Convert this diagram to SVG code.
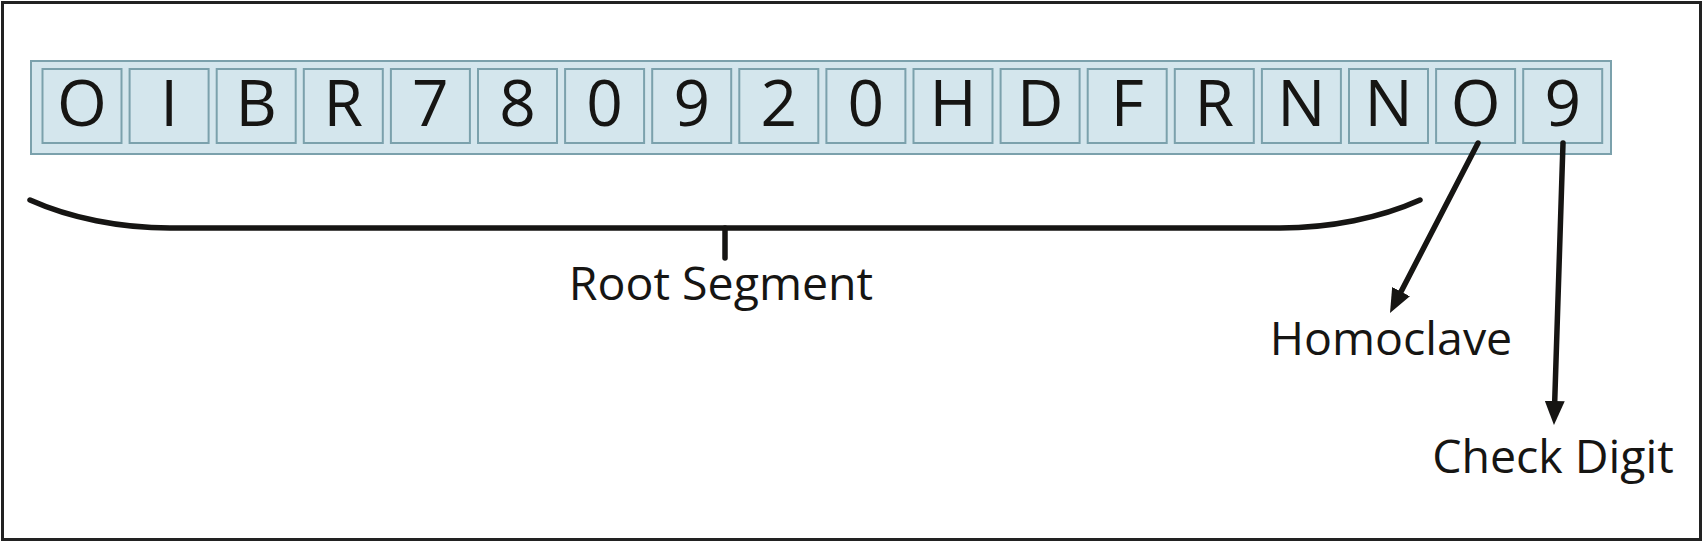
<svg xmlns="http://www.w3.org/2000/svg" width="1704" height="542" viewBox="0 0 1704 542">
  <style>
    .cell { fill: #d4e6ed; stroke: #7ba1ac; stroke-width: 2; }
    .strip { fill: #d4e6ed; stroke: #7ba1ac; stroke-width: 2; }
    .ch { font-family: "Open Sans", "Noto Sans", sans-serif; font-size: 64px; fill: #161513; text-anchor: middle; }
    .lbl { font-family: "Open Sans", "Noto Sans", sans-serif; font-size: 46.5px; fill: #161513; text-anchor: middle; }
    .conn { fill: none; stroke: #161513; stroke-width: 5.5; stroke-linecap: round; }
  </style>
  <defs>
    <marker id="arrow" markerUnits="userSpaceOnUse" markerWidth="24" markerHeight="20" viewBox="0 0 24 20" refX="4" refY="10" orient="auto">
      <path d="M0,0 L24,10 L0,20 Z" fill="#161513"/>
    </marker>
  </defs>
  <rect x="2.5" y="2.5" width="1698" height="537" fill="#ffffff" stroke="#222222" stroke-width="3"/>
  <g id="rfc">
    <rect class="strip" x="31" y="61" width="1580" height="93"/>
    <g id="c0"><rect class="cell" x="42.5" y="69" width="79" height="74"/><text class="ch" x="82" y="126">O</text></g>
    <g id="c1"><rect class="cell" x="129.6" y="69" width="79" height="74"/><text class="ch" x="169.1" y="126">I</text></g>
    <g id="c2"><rect class="cell" x="216.7" y="69" width="79" height="74"/><text class="ch" x="256.2" y="126">B</text></g>
    <g id="c3"><rect class="cell" x="303.8" y="69" width="79" height="74"/><text class="ch" x="343.3" y="126">R</text></g>
    <g id="c4"><rect class="cell" x="390.9" y="69" width="79" height="74"/><text class="ch" x="430.4" y="126">7</text></g>
    <g id="c5"><rect class="cell" x="478" y="69" width="79" height="74"/><text class="ch" x="517.5" y="126">8</text></g>
    <g id="c6"><rect class="cell" x="565.1" y="69" width="79" height="74"/><text class="ch" x="604.6" y="126">0</text></g>
    <g id="c7"><rect class="cell" x="652.2" y="69" width="79" height="74"/><text class="ch" x="691.7" y="126">9</text></g>
    <g id="c8"><rect class="cell" x="739.3" y="69" width="79" height="74"/><text class="ch" x="778.8" y="126">2</text></g>
    <g id="c9"><rect class="cell" x="826.4" y="69" width="79" height="74"/><text class="ch" x="865.9" y="126">0</text></g>
    <g id="c10"><rect class="cell" x="913.5" y="69" width="79" height="74"/><text class="ch" x="953" y="126">H</text></g>
    <g id="c11"><rect class="cell" x="1000.6" y="69" width="79" height="74"/><text class="ch" x="1040.1" y="126">D</text></g>
    <g id="c12"><rect class="cell" x="1087.7" y="69" width="79" height="74"/><text class="ch" x="1127.2" y="126">F</text></g>
    <g id="c13"><rect class="cell" x="1174.8" y="69" width="79" height="74"/><text class="ch" x="1214.3" y="126">R</text></g>
    <g id="c14"><rect class="cell" x="1261.9" y="69" width="79" height="74"/><text class="ch" x="1301.4" y="126">N</text></g>
    <g id="c15"><rect class="cell" x="1349" y="69" width="79" height="74"/><text class="ch" x="1388.5" y="126">N</text></g>
    <g id="c16"><rect class="cell" x="1436.1" y="69" width="79" height="74"/><text class="ch" x="1475.6" y="126">O</text></g>
    <g id="c17"><rect class="cell" x="1523.2" y="69" width="79" height="74"/><text class="ch" x="1562.7" y="126">9</text></g>
  </g>
  <g id="connectors">
    <path class="conn" d="M30,200 C70,218 120,228 170,228 L1280,228 C1330,228 1380,218 1420,200"/>
    <path class="conn" d="M725,228 L725,258"/>
    <path class="conn" d="M1478,143 L1399.2,295.2" marker-end="url(#arrow)"/>
    <path class="conn" d="M1563,143 L1554.6,405" marker-end="url(#arrow)"/>
  </g>
  <g id="root-label"><text class="lbl" x="721" y="300">Root Segment</text></g>
  <g id="homoclave-label"><text class="lbl" x="1391" y="355">Homoclave</text></g>
  <g id="check-label"><text class="lbl" x="1553" y="473">Check Digit</text></g>
</svg>
